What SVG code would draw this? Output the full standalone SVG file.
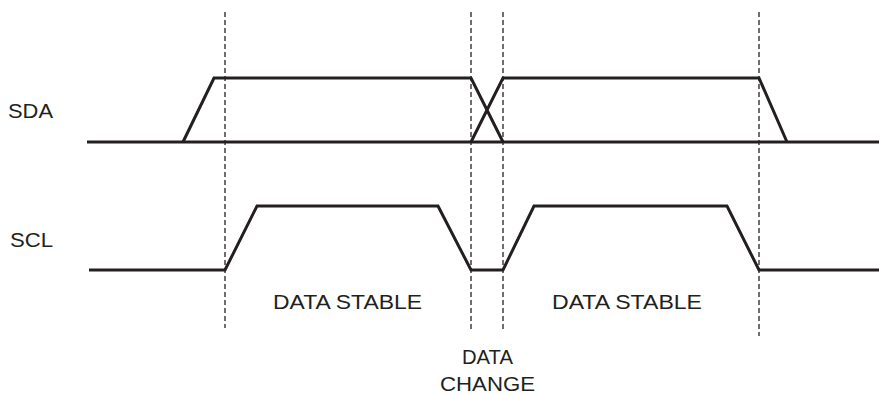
<svg xmlns="http://www.w3.org/2000/svg" width="879" height="395" viewBox="0 0 879 395">
<style>
.sig{fill:none;stroke:#231f20;stroke-width:3;stroke-linejoin:miter}
.dash{stroke:#231f20;stroke-width:1.3;stroke-dasharray:5,3}
.t{font-family:"Liberation Sans",Arial,sans-serif;font-size:19.5px;fill:#231f20}
</style>
<rect width="879" height="395" fill="#fff"/>
<g id="guides">
<line class="dash" x1="225" y1="12" x2="225" y2="328"/>
<line class="dash" x1="471" y1="12" x2="471" y2="330"/>
<line class="dash" x1="503" y1="12" x2="503" y2="330"/>
<line class="dash" x1="759" y1="12" x2="759" y2="336"/>
</g>
<g id="connectors">
<g id="sda">
<line class="sig" x1="87" y1="142" x2="879" y2="142"/>
<polyline class="sig" points="183,142 214,78 471,78 503,142"/>
<polyline class="sig" points="471,142 503,78 759,78 787,142"/>
</g>
<g id="scl">
<polyline class="sig" points="89,270 225,270 257,206 438,206 471,270 503,270 534,206 727,206 759,270 879,270"/>
</g>
</g>
<g id="labels">
<text id="lbl-sda" class="t" x="8" y="118" font-size="20.5" textLength="45" lengthAdjust="spacingAndGlyphs">SDA</text>
<text id="lbl-scl" class="t" x="10" y="247" font-size="20.5" textLength="43" lengthAdjust="spacingAndGlyphs">SCL</text>
<text id="stable1" class="t" x="273" y="309" textLength="149" lengthAdjust="spacingAndGlyphs">DATA STABLE</text>
<text id="stable2" class="t" x="552" y="309" textLength="150" lengthAdjust="spacingAndGlyphs">DATA STABLE</text>
<text id="change1" class="t" x="462" y="364" textLength="51" lengthAdjust="spacingAndGlyphs">DATA</text>
<text id="change2" class="t" x="440" y="391" textLength="95" lengthAdjust="spacingAndGlyphs">CHANGE</text>
</g>
</svg>
